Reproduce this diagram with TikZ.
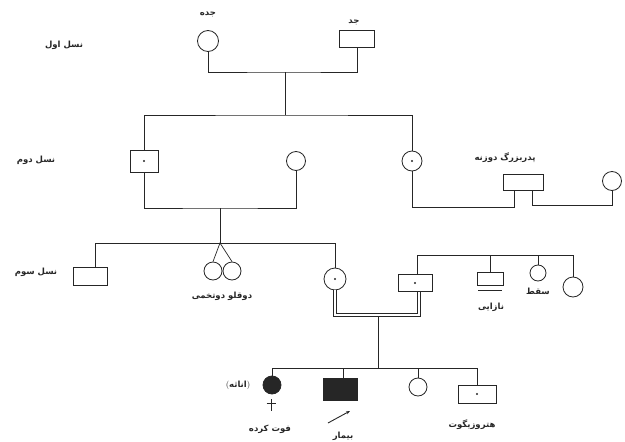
\documentclass[tikz,border=0pt]{standalone}
\usepackage{fontspec}
\newfontfamily\arabicfont[Script=Arabic]{DejaVu Sans}
\TeXXeTstate=1
\newcommand\fa[1]{{\arabicfont\bfseries\beginR #1\endR}}
\usetikzlibrary{arrows.meta}
\begin{document}
\begin{tikzpicture}[x=1pt,y=-1pt,
  line width=0.7pt, color=black!85,
  fem/.style={circle, draw, line width=0.8pt, inner sep=0pt, minimum size=#1},
  fem/.default=19,
  mal/.style 2 args={rectangle, draw, line width=0.8pt, inner sep=0pt, minimum width=#1, minimum height=#2},
  dotin/.style={path picture={\fill[black!85] (path picture bounding box.center) circle (1.1pt);}},
  aff/.style={fill=black!85},
  lbl/.style={inner sep=0pt, font=\fontsize{8.5}{10}\selectfont},
  dbl/.style={double=white, double distance=2.6pt, line width=0.6pt}
]
\useasboundingbox (0,0) rectangle (625,442);

% generation labels
\node[lbl] (L1) at (64,45) {\fa{نسل اول}};
\node[lbl] (L2) at (36,160) {\fa{نسل دوم}};
\node[lbl] (L3) at (36,272) {\fa{نسل سوم}};

% generation 1
\node[fem=21] (g1f) at (208,41) {};
\node[mal={35}{17}] (g1m) at (357,39) {};
\node[lbl] (t1f) at (208,14) {\fa{جده}};
\node[lbl] (t1m) at (354,22) {\fa{جد}};
\coordinate (g1mid) at (285,72);
\coordinate (g1sib) at (285,115);
\draw (g1f.south) |- (g1mid) -| (g1m.south);
\draw (g1mid) -- (g1sib);

% generation 2
\node[mal={28}{22}, dotin] (g2a) at (144,161) {};
\node[fem=19] (g2w) at (296,161) {};
\node[fem=20, dotin] (g2b) at (412,161) {};
\node[mal={40}{16}] (gp) at (523,182) {};
\node[fem=19] (gpw) at (612,181) {};
\node[lbl] (tgp) at (505,158) {\fa{پدربزرگ دوزنه}};
\draw (g2a.north) |- (g1sib) -| (g2b.north);
\coordinate (g2mid) at (220,208);
\draw (g2a.south) |- (g2mid) -| (g2w.south);
\coordinate (m2a) at (514,207);
\coordinate (m2b) at (532,205);
\draw (g2b.south) |- (m2a) -- (m2a |- gp.south);
\draw (m2b |- gp.south) -- (m2b) -| (gpw.south);

% generation 3
\coordinate (g3sib) at (220,243);
\draw (g2mid) -- (g3sib);
\node[mal={34}{18}] (g3a) at (90,276) {};
\coordinate (g3l) at (95,243);
\node[fem=18] (tw1) at (213,271) {};
\node[fem=18] (tw2) at (232,271) {};
\node[lbl] (ttw) at (222,296) {\fa{دوقلو دوتخمی}};
\node[fem=22, dotin] (g3c) at (335,279) {};
\draw (g3l |- g3a.north) -- (g3l) -| (g3c.north);
\draw (tw1.north) -- (g3sib) -- (tw2.north);

\node[mal={34}{17}, dotin] (g3h) at (415,283) {};
\coordinate (cm) at (378,315);
\coordinate (hr) at (419,315);
\draw[dbl] (g3c.south) |- (cm) -- (hr) -- (hr |- g3h.south);

\coordinate (hs) at (417,255);
\coordinate (hsr) at (573,255);
\node[mal={26}{13}] (g3s1) at (490,278.5) {};
\coordinate (bar1) at (478,290);
\coordinate (bar2) at (502,290);
\draw[line width=1pt] (bar1) -- (bar2);
\node[lbl] (tinf) at (491,307) {\fa{نازایی}};
\node[fem=16] (g3s2) at (538,273) {};
\node[lbl] (tab) at (538,291) {\fa{سقط}};
\node[fem=20] (g3s3) at (573,287) {};
\draw (hs |- g3h.north) -- (hs) -- (hsr) -- (g3s3.north);
\draw (g3s1.north) -- (g3s1.north |- hs);
\draw (g3s2.north) -- (g3s2.north |- hs);

% generation 4
\coordinate (cmd) at (378,368);
\draw (cm) ++(0,2) -- (cmd);
\node[fem=18, aff] (g4a) at (272,385) {};
\node[mal={34}{22}, aff] (g4b) at (340,389) {};
\node[fem=18] (g4c) at (418,387) {};
\node[mal={38}{18}, dotin] (g4d) at (477,394) {};
\coordinate (s4l) at (272,368);
\coordinate (s4r) at (477,368);
\draw (g4a.north) -- (s4l) -- (s4r) -- (g4d.north);
\draw (g4b.north -| 343,0) -- (343,368);
\draw (g4c.north) -- (g4c.north |- s4l);

% labels gen 4
\node[lbl] (tname) at (238,385) {(\fa{اناثه})};
\draw[line width=0.9pt] (271,399) -- (271,411);
\draw[line width=0.9pt] (266.5,403) -- (275.5,403);
\node[lbl] (tdec) at (270,429) {\fa{فوت کرده}};
\coordinate (ar1) at (328,423);
\coordinate (ar2) at (350,411);
\draw[-{Stealth[length=4pt]}, line width=0.9pt] (ar1) -- (ar2);
\node[lbl] (tsick) at (343,436) {\fa{بیمار}};
\node[lbl] (thet) at (472,425) {\fa{هتروزیگوت}};
\end{tikzpicture}
\end{document}
